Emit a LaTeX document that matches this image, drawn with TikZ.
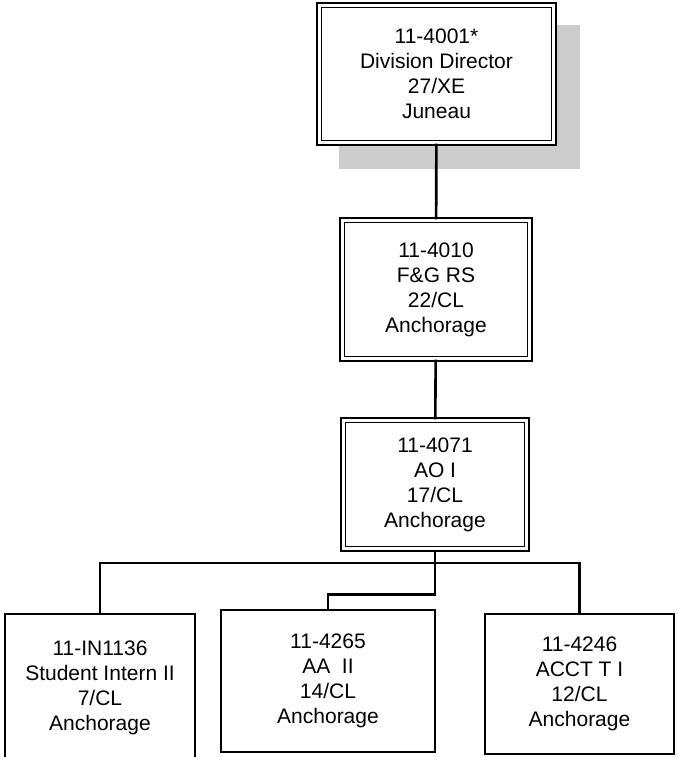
\documentclass[tikz,border=0pt]{standalone}
\usepackage{fontspec}
\setmainfont{Liberation Sans}
\usepackage{tikz}
\usetikzlibrary{shadows}

\begin{document}
\begin{tikzpicture}[x=1pt,y=-1pt,
        posbox/.style={rectangle,draw,fill=white,align=center,inner sep=0pt,line width=2.2pt,font=\fontsize{21}{25}\selectfont},
        dblbox/.style={posbox,line width=1.8pt,double,double distance=2.8pt},
        headbox/.style={dblbox,drop shadow={shadow xshift=23pt,shadow yshift=-23pt,fill=gray!40,draw=gray!40,line width=6.4pt,opacity=1}},
        link/.style={line width=2.6pt}]
        \useasboundingbox (0,0) rectangle (677,757);

        \node[headbox,minimum width=234.5pt,minimum height=137.5pt] (dir) at (436.5,74) {11-4001*\\Division Director\\27/XE\\Juneau};
        \node[dblbox,minimum width=187.5pt,minimum height=138.5pt] (fgrs) at (436,289.5) {11-4010\\F\&G RS\\22/CL\\Anchorage};
        \node[dblbox,minimum width=183.5pt,minimum height=128.5pt] (aoi) at (435,484.5) {11-4071\\AO I\\17/CL\\Anchorage};

        \node[posbox,minimum width=190pt,minimum height=148pt] (intern) at (100,688) {11-IN1136\\Student Intern II\\7/CL\\Anchorage};
        \node[posbox,minimum width=214pt,minimum height=142pt] (aa) at (328,681) {11-4265\\AA\ \ II\\14/CL\\Anchorage};
        \node[posbox,minimum width=189pt,minimum height=140pt] (acct) at (579.5,684) {11-4246\\ACCT T I\\12/CL\\Anchorage};

        \coordinate (bus) at (435,563);

        \draw[link](dir) -- (fgrs);
        \draw[link](fgrs) -- (aoi);
        \draw[link](aoi.south) -- ++(0,45) -| (aa.north);
        \draw[link](intern.north) |- (bus) -| (acct.north);
    \end{tikzpicture}
\end{document}
